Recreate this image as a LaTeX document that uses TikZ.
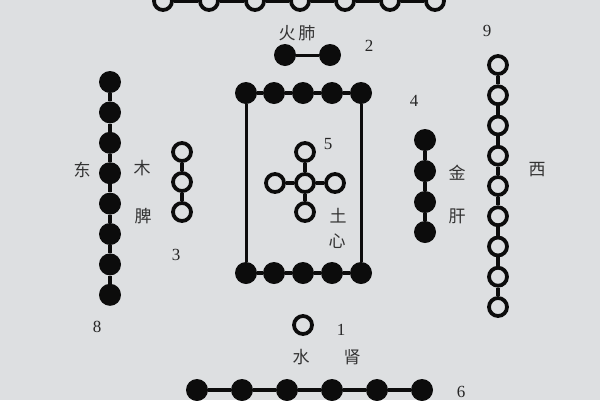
\documentclass[tikz,border=0pt]{standalone}
\usepackage{fontspec}
\setmainfont{Liberation Serif}
\newfontfamily\cjk{Noto Sans CJK SC}
\definecolor{bg}{RGB}{221,223,225}
\definecolor{ink}{RGB}{12,12,12}
\begin{document}
\begin{tikzpicture}[x=1pt,y=-1pt,
  bdot/.style={circle,fill=ink,inner sep=0pt,minimum size=22pt},
  wdot/.style={circle,draw=ink,line width=3.8pt,fill=bg,inner sep=0pt,minimum size=18pt},
  link/.style={draw=ink,line width=4pt},
  thin link/.style={draw=ink,line width=3pt},
  cn/.style={font=\cjk\fontsize{17}{17}\selectfont,text=black!80,inner sep=0pt},
  num/.style={font=\fontsize{17}{17}\selectfont,text=black!85,inner sep=0pt}]
\fill[bg] (0,0) rectangle (600,400);
\useasboundingbox (0,0) rectangle (600,400);
\clip (0,0) rectangle (600,400);
% top: 7 open
\foreach \i/\x in {1/163,2/209,3/255,4/300,5/345,6/390,7/435}
  \node[wdot] (s\i) at (\x,1) {};
\foreach \i [count=\j from 2] in {1,...,6} \draw[link] (s\i) -- (s\j);
% fire 2
\node[bdot] (f1) at (285,55) {};
\node[bdot] (f2) at (330,55) {};
\draw[thin link] (f1) -- (f2);
\node[cn] (tfire) at (297,33) {火\,肺};
\node[num] (n2) at (369,46) {2};
% left 8 black
\foreach \i in {1,...,8}
  \node[bdot] (e\i) at (110,{82+(\i-1)*30.4}) {};
\foreach \i [count=\j from 2] in {1,...,7} \draw[link] (e\i) -- (e\j);
\node[num] (n8) at (97,327) {8};
\node[cn] (teast) at (82,170) {东};
\node[cn] (twood) at (142,168) {木};
\node[cn] (tspleen) at (143,216) {脾};
% 3 open
\foreach \i in {1,2,3}
  \node[wdot] (w\i) at (182,{152+(\i-1)*30}) {};
\draw[link] (w1) -- (w2) (w2) -- (w3);
\node[num] (n3) at (176,255) {3};
% centre rectangle 10
\foreach \i/\x in {1/246,2/274,3/303,4/332,5/361}{
  \node[bdot] (t\i) at (\x,93) {};
  \node[bdot] (b\i) at (\x,273) {};}
\foreach \i [count=\j from 2] in {1,...,4} {\draw[link] (t\i) -- (t\j); \draw[link] (b\i) -- (b\j);}
\draw[thin link] (t1) -- (b1);
\draw[thin link] (t5) -- (b5);
% cross 5
\node[wdot] (c0) at (305,183) {};
\node[wdot] (cu) at (305,152) {};
\node[wdot] (cd) at (305,212) {};
\node[wdot] (cl) at (275,183) {};
\node[wdot] (cr) at (335,183) {};
\draw[link] (c0) -- (cu) (c0) -- (cd) (c0) -- (cl) (c0) -- (cr);
\node[num] (n5) at (328,144) {5};
\node[cn] (tearth) at (338,216) {土};
\node[cn] (theart) at (337,241) {心};
% right 4 black
\foreach \i/\y in {1/140,2/171,3/202,4/232}
  \node[bdot] (m\i) at (425,\y) {};
\foreach \i [count=\j from 2] in {1,...,3} \draw[link] (m\i) -- (m\j);
\node[num] (n4) at (414,101) {4};
\node[cn] (tmetal) at (457,173) {金};
\node[cn] (tliver) at (457,216) {肝};
% right 9 open
\foreach \i in {1,...,9}
  \node[wdot] (r\i) at (498,{65+(\i-1)*30.25}) {};
\foreach \i [count=\j from 2] in {1,...,8} \draw[link] (r\i) -- (r\j);
\node[num] (n9) at (487,31) {9};
\node[cn] (twest) at (537,170) {西};
% bottom 1 open
\node[wdot] (o1) at (303,325) {};
\node[num] (n1) at (341,330) {1};
\node[cn] (twater) at (301,357) {水};
\node[cn] (tkidney) at (352,357) {肾};
% bottom 6 black
\foreach \i/\x in {1/197,2/242,3/287,4/332,5/377,6/422}
  \node[bdot] (g\i) at (\x,390) {};
\foreach \i [count=\j from 2] in {1,...,5} \draw[link] (g\i) -- (g\j);
\node[num] (n6) at (461,392) {6};
\end{tikzpicture}
\end{document}
